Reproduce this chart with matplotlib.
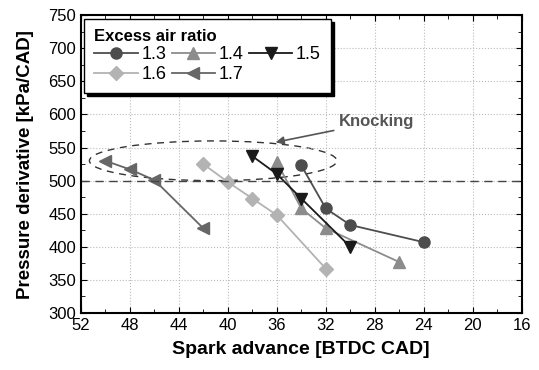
import numpy as np
import matplotlib
matplotlib.use('Agg')
import matplotlib.pyplot as plt
from matplotlib.patches import Ellipse
from matplotlib.ticker import MultipleLocator

plt.rcParams['font.family'] = ['Liberation Sans', 'DejaVu Sans']

# Pressure derivative vs spark advance, one series per excess air ratio
lambdas = ['1.3', '1.4', '1.5', '1.6', '1.7']
sa_13 = [34, 32, 30, 24]
dp_13 = [523, 458, 433, 407]
sa_14 = [36, 34, 32, 26]
dp_14 = [528, 458, 428, 377]
sa_15 = [38, 36, 34, 30]
dp_15 = [537, 510, 473, 400]
sa_16 = [42, 40, 38, 36, 32]
dp_16 = [525, 498, 473, 448, 367]
sa_17 = [50, 48, 46, 42]
dp_17 = [530, 517, 501, 428]

knock_limit = 500

series = [(sa_13, dp_13, 'o', '#4d4d4d', 8),
          (sa_14, dp_14, '^', '#8c8c8c', 9),
          (sa_15, dp_15, 'v', '#1a1a1a', 9),
          (sa_16, dp_16, 'D', '#b3b3b3', 7),
          (sa_17, dp_17, '<', '#666666', 9)]

fig = plt.figure(figsize=(5.39, 3.70), dpi=100)
ax = fig.add_axes([0.150, 0.154, 0.818, 0.805])

handles = []
for (x, y, m, c, ms), lab in zip(series, lambdas):
    h, = ax.plot(x, y, marker=m, color=c, markersize=ms, linewidth=1.3, label=lab)
    handles.append(h)

ax.axhline(knock_limit, color='#444444', linestyle=(0, (6, 4)), linewidth=1.0)

# knocking region
ell = Ellipse((41.2, 530), 20.2, 60, fill=False, edgecolor='#333333',
              linestyle=(0, (5, 4)), linewidth=1.0)
ax.add_patch(ell)
ax.annotate('Knocking', xy=(36.1, 558), xytext=(30.9, 589),
            fontsize=12, fontweight='bold', color='#555555', va='center',
            arrowprops=dict(arrowstyle='-|>', color='#555555', lw=1.2,
                            mutation_scale=12, shrinkA=2, shrinkB=0))

ax.set_xlim(52, 16)
ax.set_ylim(300, 750)
ax.xaxis.set_major_locator(MultipleLocator(4))
ax.xaxis.set_minor_locator(MultipleLocator(2))
ax.yaxis.set_major_locator(MultipleLocator(50))
ax.yaxis.set_minor_locator(MultipleLocator(25))
ax.tick_params(which='both', direction='in', top=True, right=True, labelsize=12)
ax.tick_params(which='major', length=4)
ax.tick_params(which='minor', length=3)
ax.grid(True, which='major', linestyle=':', color='#bbbbbb', linewidth=0.8)
for s in ax.spines.values():
    s.set_linewidth(1.5)

ax.set_xlabel('Spark advance [BTDC CAD]', fontsize=14, fontweight='bold', labelpad=6)
ax.set_ylabel('Pressure derivative [kPa/CAD]', fontsize=13.5, fontweight='bold',
              labelpad=10)

# row-major order: 1.3 1.4 1.5 / 1.6 1.7
order = [0, 3, 1, 4, 2]
leg = ax.legend([handles[i] for i in order], [lambdas[i] for i in order],
                ncol=3, loc='upper left', title='Excess air ratio',
                fontsize=13, title_fontproperties={'weight': 'bold', 'size': 12},
                frameon=True, fancybox=False, shadow={'color': 'black', 'alpha': 1},
                edgecolor='black', handlelength=2.4, handletextpad=0.2,
                columnspacing=0.3, labelspacing=0.15, borderpad=0.55,
                borderaxespad=0.2)
leg._legend_box.align = 'left'
leg.get_frame().set_linewidth(1.0)

fig.savefig('out.png', dpi=100)
